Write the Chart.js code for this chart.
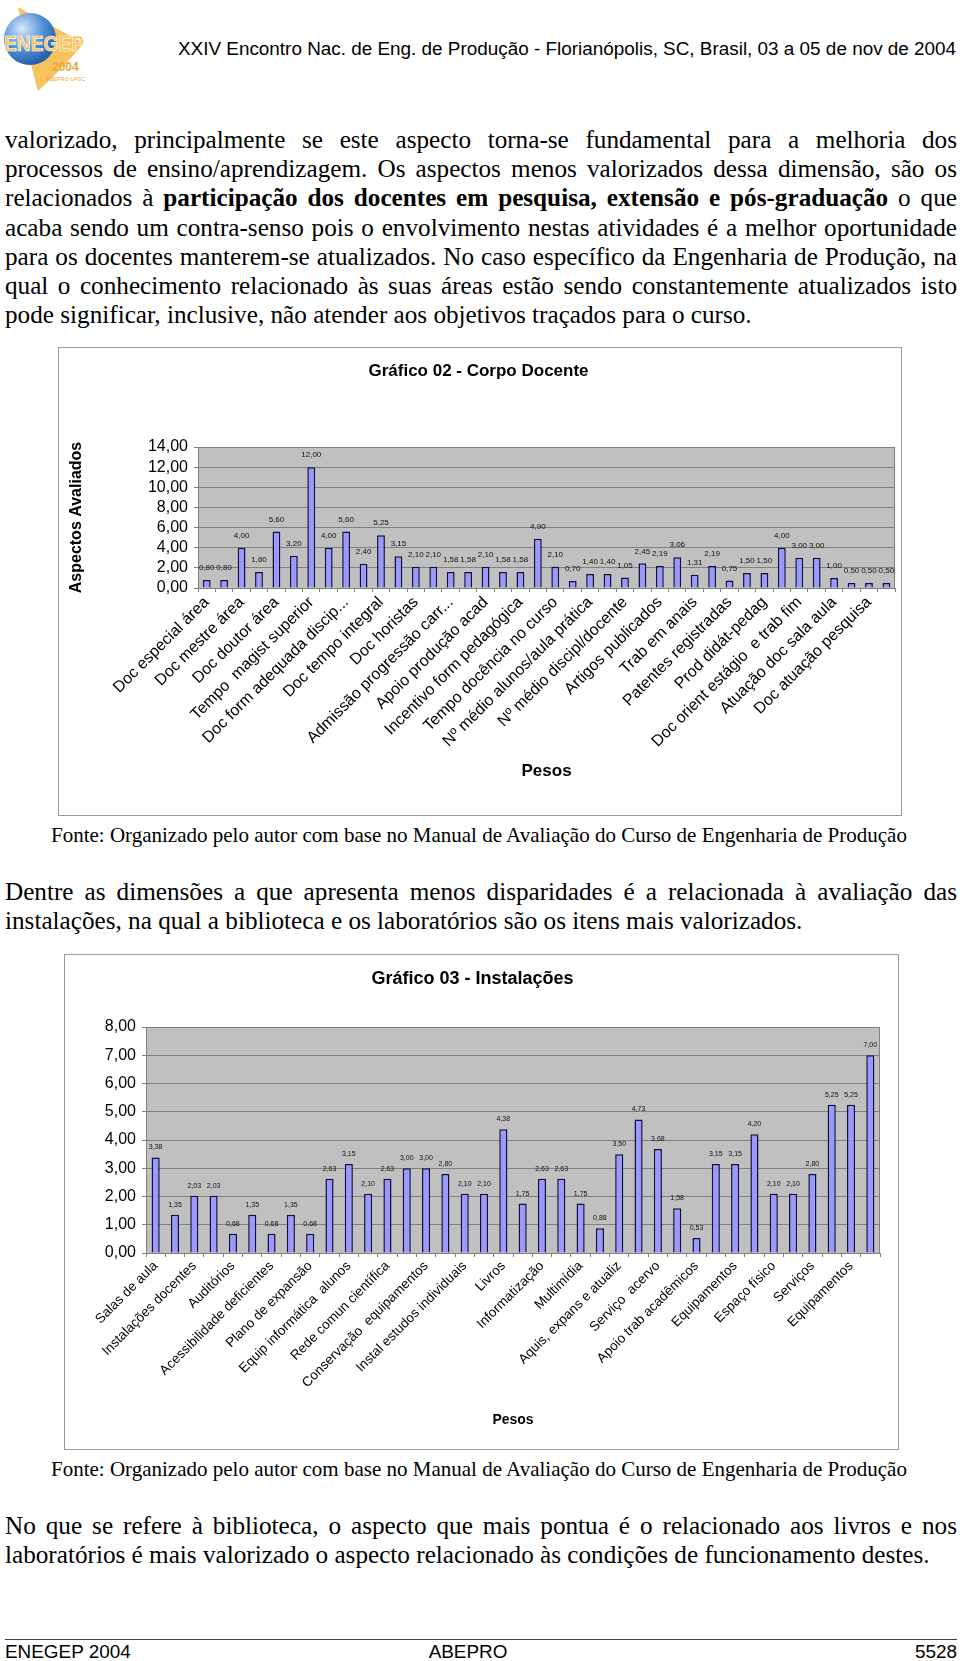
<!DOCTYPE html>
<html><head><meta charset="utf-8">
<script src="https://cdn.jsdelivr.net/npm/chart.js@4.4.1/dist/chart.umd.min.js"></script>
<style>
html,body{margin:0;padding:0;background:#fff;}
body{width:960px;height:1661px;position:relative;overflow:hidden;font-family:"Liberation Serif","Times New Roman",serif;color:#000;}
.abs{position:absolute;}
.sans{font-family:"Liberation Sans",Arial,sans-serif;font-size:18.9px;line-height:22px;white-space:nowrap;}
.para{position:absolute;left:5px;width:952px;font-size:25.2px;line-height:29.2px;}
.para .j{display:block;text-align:justify;text-align-last:justify;}
.para .l{display:block;text-align:left;}
.cap{position:absolute;left:51px;font-size:21px;line-height:24px;white-space:nowrap;}
.box{position:absolute;border:1px solid #9a9a9a;background:#fff;}
</style>
</head><body>

<svg class="abs" style="left:2px;top:3px" width="84" height="90" viewBox="0 0 84 90">
 <defs><radialGradient id="g" cx="35%" cy="30%" r="75%"><stop offset="0" stop-color="#d6e8fb"/><stop offset="0.55" stop-color="#4f8fd6"/><stop offset="1" stop-color="#1f5aa8"/></radialGradient></defs>
 <path d="M16 4 Q44 20 82 40 Q62 64 36 88 Q28 60 16 4 Z" fill="#f6c35c"/>
 <circle cx="28" cy="36" r="26" fill="url(#g)"/>
 <text x="2" y="48" font-family="Liberation Sans" font-weight="bold" font-size="22" fill="#f6c35c" stroke="#ffffff" stroke-width="0.7" textLength="80" lengthAdjust="spacingAndGlyphs">ENEGEP</text>
 <text x="50" y="68" font-family="Liberation Sans" font-weight="bold" font-size="12" fill="#e9a83a">2004</text>
 <text x="44" y="78" font-family="Liberation Sans" font-size="5.5" fill="#e9a83a">ABEPRO UFSC</text>
</svg>
<div class="abs sans" style="left:178px;top:38px;">XXIV Encontro Nac. de Eng. de Produção - Florianópolis, SC, Brasil, 03 a 05 de nov de 2004</div>

<div class="para" style="top:125px;">
<span class="j">valorizado, principalmente se este aspecto torna-se fundamental para a melhoria dos</span>
<span class="j">processos de ensino/aprendizagem. Os aspectos menos valorizados dessa dimensão, são os</span>
<span class="j">relacionados à <b>participação dos docentes em pesquisa, extensão e pós-graduação</b> o que</span>
<span class="j">acaba sendo um contra-senso pois o envolvimento nestas atividades é a melhor oportunidade</span>
<span class="j">para os docentes manterem-se atualizados. No caso específico da Engenharia de Produção, na</span>
<span class="j">qual o conhecimento relacionado às suas áreas estão sendo constantemente atualizados isto</span>
<span class="l">pode significar, inclusive, não atender aos objetivos traçados para o curso.</span>
</div>

<div class="box" style="left:58px;top:347px;width:842px;height:467px;">
<canvas id="c1" width="842" height="467" style="display:block"></canvas>
</div>

<div class="cap" style="top:823px;">Fonte: Organizado pelo autor com base no Manual de Avaliação do Curso de Engenharia de Produção</div>

<div class="para" style="top:877px;">
<span class="j">Dentre as dimensões a que apresenta menos disparidades é a relacionada à avaliação das</span>
<span class="l">instalações, na qual a biblioteca e os laboratórios são os itens mais valorizados.</span>
</div>

<div class="box" style="left:64px;top:954px;width:833px;height:494px;">
<canvas id="c2" width="833" height="494" style="display:block"></canvas>
</div>

<div class="cap" style="top:1457px;">Fonte: Organizado pelo autor com base no Manual de Avaliação do Curso de Engenharia de Produção</div>

<div class="para" style="top:1511px;">
<span class="j">No que se refere à biblioteca, o aspecto que mais pontua é o relacionado aos livros e nos</span>
<span class="l">laboratórios é mais valorizado o aspecto relacionado às condições de funcionamento destes.</span>
</div>

<div class="abs" style="left:5px;top:1639px;width:952px;height:0;border-top:1.5px solid #444;"></div>
<div class="abs sans" style="left:5px;top:1641px;">ENEGEP 2004</div>
<div class="abs sans" style="left:0;width:936px;text-align:center;top:1641px;">ABEPRO</div>
<div class="abs sans" style="right:3px;top:1641px;">5528</div>

<script>
// ---- Gráfico 02 - Corpo Docente ----
const categories1 = ["Doc especial área","Doc mestre área","Doc doutor área","Tempo  magist superior","Doc form adequada discip...","Doc tempo integral","Doc horistas","Admissão progressão carr...","Apoio produção acad","Incentivo form pedagógica","Tempo docência no curso","Nº médio alunos/aula prática","Nº médio discipl/docente","Artigos publicados","Trab em anais","Patentes registradas","Prod didát-pedag","Doc orient estágio  e trab fim","Atuação doc sala aula","Doc atuação pesquisa"];
const values1 = [0.80,0.80,4.00,1.60,5.60,3.20,12.00,4.00,5.60,2.40,5.25,3.15,2.10,2.10,1.58,1.58,2.10,1.58,1.58,4.90,2.10,0.70,1.40,1.40,1.05,2.45,2.19,3.06,1.31,2.19,0.75,1.50,1.50,4.00,3.00,3.00,1.00,0.50,0.50,0.50];
const yMax1 = 14, yStep1 = 2;

// ---- Gráfico 03 - Instalações ----
const categories2 = ["Salas de aula","Instalações docentes","Auditórios","Acessibilidade deficientes","Plano de expansão","Equip informática  alunos","Rede comun científica","Conservação  equipamentos","Instal estudos individuais","Livros","Informatização","Multimídia","Aquis, expans e atualiz","Serviço  acervo","Apoio trab acadêmicos","Equipamentos","Espaço físico","Serviços","Equipamentos"];
const values2 = [3.38,1.35,2.03,2.03,0.68,1.35,0.68,1.35,0.68,2.63,3.15,2.10,2.63,3.00,3.00,2.80,2.10,2.10,4.38,1.75,2.63,2.63,1.75,0.88,3.50,4.73,3.68,1.58,0.53,3.15,3.15,4.20,2.10,2.10,2.80,5.25,5.25,7.00];
const yMax2 = 8, yStep2 = 1;

const SANS = '"Liberation Sans", Arial, sans-serif';
Chart.defaults.font.family = SANS;
Chart.defaults.color = '#000';

function fmt(v){ return Number(v).toFixed(2).replace('.', ','); }
function interleave(cats, n){ const out=[]; for(let i=0;i<n;i++) out.push(i%2===0 ? (cats[i/2]||'') : ''); return out; }

const plotBg = {
  id:'plotBg',
  beforeDraw(chart){ const {ctx, chartArea:a} = chart; ctx.save(); ctx.fillStyle='#c0c0c0'; ctx.fillRect(a.left,a.top,a.width,a.height); ctx.restore(); },
  afterDraw(chart){ const {ctx, chartArea:a} = chart; ctx.save(); ctx.strokeStyle='#808080'; ctx.lineWidth=1; ctx.strokeRect(Math.round(a.left)+0.5,Math.round(a.top)+0.5,Math.round(a.width)-1,Math.round(a.height)); ctx.restore(); }
};
const valueLabels = {
  id:'valueLabels',
  afterDatasetsDraw(chart, args, opts){
    const {ctx} = chart; const meta = chart.getDatasetMeta(0);
    ctx.save(); ctx.font = opts.font; ctx.fillStyle = opts.color; ctx.textAlign='center'; ctx.textBaseline='middle';
    meta.data.forEach((bar,i)=>{ ctx.fillText(fmt(chart.data.datasets[0].data[i]), bar.x, bar.y - opts.offset); });
    ctx.restore();
  }
};

function makeChart(id, cfg){
  return new Chart(document.getElementById(id), {
    type:'bar',
    data:{ labels: interleave(cfg.cats, cfg.vals.length), datasets:[{ data: cfg.vals, backgroundColor:'#9999ff', borderColor:'#10103a', borderWidth:1.5, barPercentage:cfg.barPct, categoryPercentage:1 }]},
    options:{
      responsive:false, animation:false, devicePixelRatio:1,
      layout:{ padding:{left:0,right:cfg.padRight,top:0,bottom:0} },
      plugins:{
        legend:{display:false}, tooltip:{enabled:false},
        title:{display:true, text:cfg.title, color:'#000', font:{family:SANS,size:cfg.titleSize,weight:'bold'}, padding:{top:cfg.titleTop,bottom:cfg.titleBottom}},
        valueLabels:{font:cfg.lblFont, color:'#111', offset:cfg.lblOffset}
      },
      scales:{
        x:{
          ticks:{autoSkip:false, maxRotation:45, minRotation:45, font:{family:SANS,size:cfg.xFont}, color:'#000', padding:1},
          grid:{drawOnChartArea:false, drawTicks:true, tickLength:4, color:'#808080', offset:true},
          border:{display:true, color:'#808080'},
          title:{display:true, text:'Pesos', color:'#000', font:{family:SANS,size:cfg.pesosSize,weight:'bold'}, padding:{top:0,bottom:cfg.pesosBottom}},
          afterFit(s){ s.height = cfg.xHeight; }
        },
        y:{
          min:0, max:cfg.yMax,
          ticks:{autoSkip:false, stepSize:cfg.yStep, callback:v=>fmt(v), font:{family:SANS,size:16}, color:'#000', padding:6},
          grid:{color:'#808080', drawTicks:true, tickLength:4, tickColor:'#808080'},
          border:{display:true, color:'#808080'},
          title:{display:!!cfg.yTitle, text:cfg.yTitle||'', color:'#000', font:{family:SANS,size:16,weight:'bold'}, padding:{top:8.4,bottom:0}},
          afterFit(s){ s.width = cfg.yWidth; }
        }
      }
    },
    plugins:[plotBg, valueLabels]
  });
}

makeChart('c1', {cats:categories1, vals:values1, barPct:0.45, padRight:3, title:'Gráfico 02 - Corpo Docente', titleSize:17, titleTop:12.8, titleBottom:65.8,
  lblFont:'8px "Liberation Sans", Arial', lblOffset:12, xFont:16, pesosSize:17, pesosBottom:33, xHeight:227, yMax:yMax1, yStep:yStep1, yTitle:'Aspectos Avaliados', yWidth:139});
makeChart('c2', {cats:categories2, vals:values2, barPct:0.42, padRight:18, title:'Gráfico 03 - Instalações', titleSize:18, titleTop:13.2, titleBottom:37.2,
  lblFont:'7px "Liberation Sans", Arial', lblOffset:10, xFont:13.5, pesosSize:14, pesosBottom:20.4, xHeight:196, yMax:yMax2, yStep:yStep2, yTitle:'', yWidth:81});
</script>
</body></html>
